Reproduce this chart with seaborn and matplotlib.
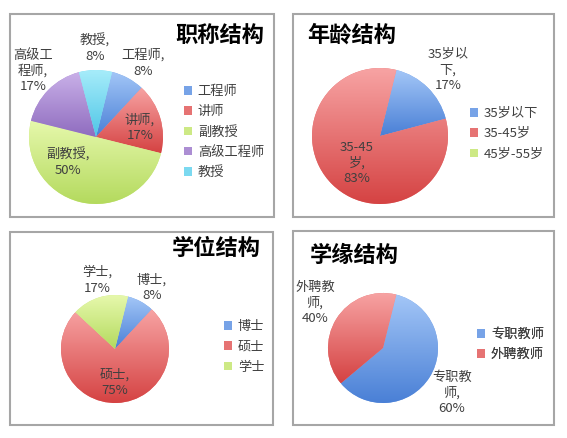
import numpy as np
import matplotlib
matplotlib.use("Agg")
import matplotlib.pyplot as plt
from matplotlib.patches import Rectangle, Patch
from matplotlib.colors import to_rgb
import seaborn as sns

# ---- data ----
title_labels = ["工程师", "讲师", "副教授", "高级工程师", "教授"]
title_values = [8, 17, 50, 17, 8]
title_texts = ["工程师,\n8%", "讲师,\n17%", "副教授,\n50%", "高级工\n程师,\n17%", "教授,\n8%"]

age_labels = ["35岁以下", "35-45岁", "45岁-55岁"]
age_values = [17, 83, 0]
age_texts = ["35岁以\n下,\n17%", "35-45\n岁,\n83%", None]

degree_labels = ["博士", "硕士", "学士"]
degree_values = [8, 75, 17]
degree_texts = ["博士,\n8%", "硕士,\n75%", "学士,\n17%"]

origin_labels = ["专职教师", "外聘教师"]
origin_values = [60, 40]
origin_texts = ["专职教\n师,\n60%", "外聘教\n师,\n40%"]

# light (top) / dark (bottom) gradient colours, excel style
blue = ("#a3c6f7", "#4a80d6")
red = ("#f7a3a3", "#d54343")
green = ("#e6f8ac", "#b4da5e")
purple = ("#c9b0e8", "#8f6cbf")
cyan = ("#a6ecfa", "#4fc6e6")

W, H = 567, 438

sns.set_theme(style="white")
plt.rcParams['font.family'] = ['Noto Sans CJK SC', 'DejaVu Sans']

fig = plt.figure(figsize=(W / 100, H / 100), dpi=100)
ax = fig.add_axes([0, 0, 1, 1])


def gradient_fill(wedge, light, dark):
    bb = wedge.get_path().get_extents()
    c0, c1 = np.array(to_rgb(light)), np.array(to_rgb(dark))
    t = np.linspace(0, 1, 64)[:, None]
    img = (c0 * (1 - t) + c1 * t)[:, None, :]
    im = ax.imshow(img, extent=[bb.x0, bb.x1, bb.y0, bb.y1], origin="upper",
                   aspect="auto", interpolation="bilinear", zorder=2)
    im.set_clip_path(wedge)


def draw_panel(rect, values, labels, texts, colors, center, radius,
               text_pos, title, title_pos, title_ha, leg_pos):
    x0, y0, x1, y1 = rect
    ax.add_patch(Rectangle((x0, H - y1), x1 - x0, y1 - y0, fill=False,
                           edgecolor="#a6a6a6", linewidth=1.5, zorder=1))
    mids = [tuple((np.array(to_rgb(a)) + np.array(to_rgb(b))) / 2) for a, b in colors]
    wedges, _ = ax.pie(values, colors=mids, startangle=76, counterclock=False,
                       center=(center[0], H - center[1]), radius=radius,
                       wedgeprops=dict(linewidth=0, zorder=2))
    for w, v, c in zip(wedges, values, colors):
        if v > 0:
            gradient_fill(w, *c)
    for t, p in zip(texts, text_pos):
        if t is None:
            continue
        ax.text(p[0], H - p[1], t, ha="center", va="center", fontsize=9.5,
                color="#404040", linespacing=1.25, zorder=3)
    ax.text(title_pos[0], H - title_pos[1], title, ha=title_ha, va="center",
            fontsize=16, fontweight="bold", color="black", zorder=3)
    handles = [Patch(facecolor=m, edgecolor="none") for m in mids]
    leg = ax.legend(handles, labels, loc="upper left",
                    bbox_to_anchor=(leg_pos[0], H - leg_pos[1]),
                    bbox_transform=ax.transData, frameon=False, fontsize=9.5,
                    handlelength=0.6, handleheight=0.6, handletextpad=0.45,
                    labelspacing=0.55, borderpad=0, borderaxespad=0)
    for txt in leg.get_texts():
        txt.set_color("#404040")
    ax.add_artist(leg)


draw_panel((10, 14, 274, 217), title_values, title_labels, title_texts,
           [blue, red, green, purple, cyan], (96, 137), 67,
           [(143, 63), (140, 128), (68, 162), (33, 71), (95, 48)],
           "职称结构", (264, 35), "right", (184, 85))

draw_panel((293, 14, 554, 217), age_values, age_labels, age_texts,
           [blue, red, green], (380, 136), 68,
           [(448, 70), (357, 163), None],
           "年龄结构", (307, 35), "left", (470, 107))

draw_panel((10, 232, 273, 425), degree_values, degree_labels, degree_texts,
           [blue, red, green], (115, 349), 54,
           [(152, 288), (115, 383), (97, 280)],
           "学位结构", (261, 248), "right", (224, 320))

draw_panel((293, 231, 554, 425), origin_values, origin_labels, origin_texts,
           [blue, red], (383, 348), 55,
           [(452, 393), (315, 303)],
           "学缘结构", (310, 255), "left", (477, 328))

ax.set_xlim(0, W)
ax.set_ylim(0, H)
ax.set_aspect("auto")
ax.axis("off")

fig.savefig("out.png", dpi=100, facecolor="white")
